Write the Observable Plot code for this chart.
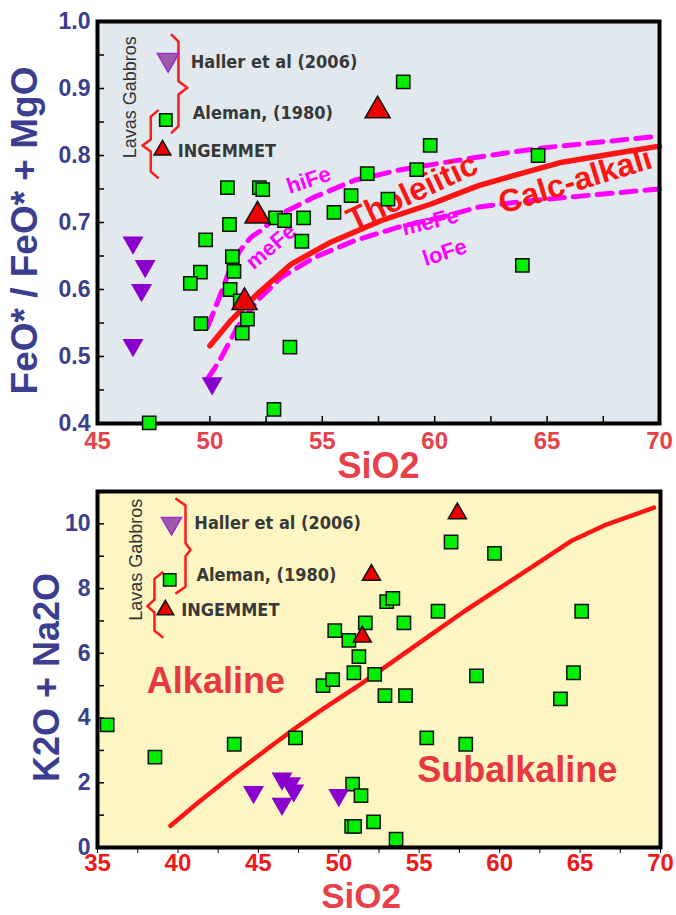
<!DOCTYPE html>
<html>
<head>
<meta charset="utf-8">
<script src="https://cdn.jsdelivr.net/npm/d3@7"></script>
<script src="https://cdn.jsdelivr.net/npm/@observablehq/plot@0.6"></script>
<style>
  body { margin: 0; background: #fff; }
  #root svg { display: block; }
</style>
</head>
<body>
<div id="root"></div>
<script>
// ---------- TOP CHART DATA (SiO2 vs FeO*/(FeO*+MgO)) ----------
const topAlemanX = [58.6,59.8,64.6,59.2,57.0,50.78,52.2,52.35,56.28,57.92,55.52,54.17,52.92,53.32,50.87,49.81,54.09,51.0,51.07,49.58,49.13,50.9,63.9,51.35,51.67,49.6,51.44,53.56,52.85,47.3];
const topAlemanY = [0.910,0.815,0.800,0.779,0.773,0.752,0.752,0.749,0.740,0.735,0.715,0.707,0.707,0.703,0.697,0.674,0.672,0.649,0.627,0.626,0.609,0.600,0.636,0.583,0.556,0.549,0.535,0.514,0.421,0.401];
const topIngemmetX = [57.46,52.12,51.54];
const topIngemmetY = [0.867,0.710,0.581];
const topHallerX = [46.58,47.12,46.96,46.58,50.1];
const topHallerY = [0.670,0.635,0.599,0.517,0.460];

// boundary curves
const tholX = [50,50.94,52.13,53.62,55.4,57.63,59.87,61.95,63.5,65.67,68,70];
const tholY = [0.516,0.554,0.594,0.638,0.671,0.703,0.728,0.755,0.770,0.790,0.803,0.814];
const hiFeX = [49.9,50.49,50.94,51.38,51.83,52.35,52.87,53.46,54.65,56.44,58.38,60.87,62.8,64.7,70];
const hiFeY = [0.544,0.594,0.635,0.660,0.678,0.690,0.706,0.718,0.738,0.763,0.778,0.792,0.802,0.811,0.829];
const loFeX = [49.9,50.4,51.23,52.13,53.17,54.66,56.44,58.38,60.31,61.95,63.8,65.67,70];
const loFeY = [0.467,0.492,0.544,0.584,0.618,0.648,0.673,0.693,0.708,0.723,0.731,0.737,0.750];

const topXTicks = [45,50,55,60,65,70];
const topXMinor = [47.5,50,52.5,55,57.5,60,62.5,65,67.5];
const topYTicks = [0.4,0.5,0.6,0.7,0.8,0.9,1.0];
const topYMinor = [0.45,0.5,0.55,0.6,0.65,0.7,0.75,0.8,0.85,0.9,0.95];

const topRegionLabels = ["Tholeiitic","Calc-alkali","hiFe","meFe","meFe","loFe"];
const topRegionX = [59.0,66.25,54.4,52.72,59.8,60.45];
const topRegionY = [0.745,0.762,0.763,0.664,0.701,0.655];

// ---------- BOTTOM CHART DATA (SiO2 vs K2O+Na2O) ----------
const botAlemanX = [35.6,38.57,43.5,47.31,49.02,49.62,49.75,50.63,50.94,51.25,51.65,52.23,52.87,52.98,53.36,54.05,54.15,56.17,56.98,59.68,58.56,55.47,57.89,63.78,64.59,65.1,50.86,51.38,50.8,50.98,52.16,53.56];
const botAlemanY = [3.79,2.79,3.19,3.39,5.0,5.19,6.7,6.4,5.4,5.9,6.94,5.35,4.69,7.6,7.7,6.94,4.69,7.3,9.44,9.09,5.3,3.39,3.19,4.59,5.4,7.3,1.96,1.6,0.65,0.65,0.79,0.26];
const botIngemmetX = [57.37,52.03,51.46];
const botIngemmetY = [10.32,8.42,6.51];
const botHallerX = [44.7,46.47,47.0,47.2,46.47,50.0];
const botHallerY = [1.71,2.13,1.98,1.76,1.35,1.62];

const alkX = [39.54,41.26,43.47,45.67,47.33,48.98,51.19,53.4,55.6,57.81,60.02,62.23,64.44,66.64,69.6];
const alkY = [0.67,1.39,2.26,3.09,3.70,4.27,4.99,5.76,6.53,7.30,8.02,8.74,9.47,9.98,10.5];

const botXTicks = [35,40,45,50,55,60,65,70];
const botXMinor = [35,37.5,40,42.5,45,47.5,50,52.5,55,57.5,60,62.5,65,67.5,70];
const botYTicks = [0,2,4,6,8,10];
const botYMinor = [1,2,3,4,5,6,7,8,9,10];

const botRegionLabels = ["Alkaline","Subalkaline"];
const botRegionX = [42.36,61.1];
const botRegionY = [5.14,2.37];

// ---------- LEGEND (series names + key placement in data units) ----------
const legendNames = ["Haller et al (2006)","Aleman, (1980)","INGEMMET"];
const legendGroup = "Lavas Gabbros";
const topLegendTextX = [49.15,49.24,48.57];
const topLegendTextY = [0.939,0.863,0.807];
const topLegendKeyX = [48.14,48.04,47.89];
const topLegendKeyY = [0.943,0.853,0.808];
const topGroupXY = [46.47,0.887];
const topBraces = [
  {x:48.6, xh:48.3, xc:49.0, y1:0.980, ym:0.901, y2:0.834, e:0.010},
  {x:47.37, xh:47.68, xc:47.0, y1:0.867, ym:0.815, y2:0.767, e:0.009}
];
const botLegendTextX = [41.02,41.15,40.2];
const botLegendTextY = [10.03,8.42,7.34];
const botLegendKeyX = [39.6,39.49,39.22];
const botLegendKeyY = [10.02,8.27,7.34];
const botGroupXY = [37.42,8.89];
const botBraces = [
  {x:40.47, xh:39.9, xc:40.78, y1:10.77, ym:9.2, y2:7.86, e:0.2},
  {x:38.54, xh:39.04, xc:38.1, y1:8.5, ym:7.46, y2:6.5, e:0.2}
];

// ---------- helpers ----------
const zip = (xs, ys) => xs.map((x, i) => ({x, y: ys[i]}));
function bracePts(b) {
  return [[b.xh,b.y1],[b.x,b.y1-b.e],[b.x,b.ym+b.e],[b.xc,b.ym],[b.x,b.ym-b.e],[b.x,b.y2+b.e],[b.xh,b.y2]]
    .map(([x,y]) => ({x,y}));
}
const FONT = "Liberation Sans, Arial, Helvetica, sans-serif";
const NARROW = "Liberation Sans Narrow, Arial Narrow, DejaVu Sans Condensed, sans-serif";
const GREEN = "#00ee00", RED = "#ee0000", PURPLE = "#8a00cc";
const NAVY = "#3b3d8f", TITLE_RED = "#e8404a";

function legendMarks(textX, textY, keyX, keyY, groupXY, braces, sizes) {
  const marks = [];
  braces.forEach(b => marks.push(Plot.line(bracePts(b), {x:"x", y:"y", stroke:"#ff1a1a", strokeWidth:2.5})));
  marks.push(Plot.text(legendNames.map((t,i)=>({t, x:textX[i], y:textY[i]})),
    {x:"x", y:"y", text:"t", textAnchor:"start", fill:"#383838", fontSize:18, fontWeight:"bold", fontFamily: NARROW}));
  marks.push(Plot.text([{t:legendGroup, x:groupXY[0], y:groupXY[1]}],
    {x:"x", y:"y", text:"t", rotate:-90, fill:"#333", fontSize:18, fontFamily: FONT}));
  marks.push(Plot.dot([{x:keyX[0], y:keyY[0]}], {x:"x", y:"y", symbol:"triangle", rotate:180, r:sizes.haller, fill:"#a05aa8", stroke:"#9a30d0", strokeWidth:1.5}));
  marks.push(Plot.dot([{x:keyX[1], y:keyY[1]}], {x:"x", y:"y", symbol:"square", r:sizes.sq, fill:GREEN, stroke:"#111", strokeWidth:1.5}));
  marks.push(Plot.dot([{x:keyX[2], y:keyY[2]}], {x:"x", y:"y", symbol:"triangle", r:sizes.tri, fill:RED, stroke:"#111", strokeWidth:1.5}));
  return marks;
}

// ---------- TOP CHART ----------
const T = {w:676, h:484, ml:97, mr:17, mt:21, mb:61};
const tInnerW = T.w - T.ml - T.mr, tInnerH = T.h - T.mt - T.mb;
const topAngles = [-25,-17,-18,-40,-14,-18];
const topColors = ["#ff1414","#ff1414","#ff00ff","#ff00ff","#ff00ff","#ff00ff"];
const topSizes = [32,32,22,22,22,22];

const topChart = Plot.plot({
  width: T.w, height: T.h,
  marginLeft: T.ml, marginRight: T.mr, marginTop: T.mt, marginBottom: T.mb,
  x: {domain: [45,70]}, y: {domain: [0.4,1.0]},
  style: {fontFamily: FONT, background: "transparent", overflow: "visible"},
  marks: [
    Plot.frame({fill: "#e1e8ee"}),
    Plot.tickY(topYMinor, {y: d=>d, insetRight: tInnerW - 7, stroke:"#000", strokeWidth:1.5}),
    Plot.tickX(topXMinor, {x: d=>d, insetTop: tInnerH - 7, stroke:"#000", strokeWidth:1.5}),
    Plot.line(zip(hiFeX, hiFeY), {x:"x", y:"y", stroke:"#ff00ff", strokeWidth:5, strokeDasharray:"15,9"}),
    Plot.line(zip(loFeX, loFeY), {x:"x", y:"y", stroke:"#ff00ff", strokeWidth:5, strokeDasharray:"15,9"}),
    Plot.line(zip(tholX, tholY), {x:"x", y:"y", stroke:"#ff1414", strokeWidth:5.5}),
    ...topRegionLabels.map((t,i) => Plot.text([{t, x:topRegionX[i], y:topRegionY[i]}],
      {x:"x", y:"y", text:"t", rotate: topAngles[i], fill: topColors[i], fontSize: topSizes[i], fontWeight:"bold"})),
    Plot.frame({stroke:"#000", strokeWidth:4}),
    ...legendMarks(topLegendTextX, topLegendTextY, topLegendKeyX, topLegendKeyY, topGroupXY, topBraces, {haller:8, sq:7, tri:6.2}),
    Plot.dot(zip(topAlemanX, topAlemanY), {x:"x", y:"y", symbol:"square", r:7.5, fill:GREEN, stroke:"#111", strokeWidth:1.5}),
    Plot.dot(zip(topHallerX, topHallerY), {x:"x", y:"y", symbol:"triangle", rotate:180, r:7.8, fill:PURPLE}),
    Plot.dot(zip(topIngemmetX, topIngemmetY), {x:"x", y:"y", symbol:"triangle", r:9.3, fill:RED, stroke:"#111", strokeWidth:1.5}),
    Plot.axisX({ticks: topXTicks, tickSize: 0, tickPadding: 8, fontSize: 24, fontWeight: "bold", color: TITLE_RED, label: null}),
    Plot.axisY({ticks: topYTicks, tickSize: 0, tickPadding: 7, tickFormat: d3.format(".1f"), fontSize: 23, fontWeight: "bold", color: NAVY, label: null}),
    Plot.text(["FeO* / FeO* + MgO"], {frameAnchor:"left", textAnchor:"middle", lineAnchor:"middle", dx:-72, dy:8, rotate:-90, fontSize:37, fontWeight:"bold", fill:NAVY}),
    Plot.text(["SiO2"], {frameAnchor:"bottom", textAnchor:"middle", lineAnchor:"middle", dy:43, dx:0, fontSize:36, fontWeight:"bold", fill:TITLE_RED})
  ]
});

// ---------- BOTTOM CHART ----------
const B = {w:676, h:431, ml:97, mr:16, mt:7, mb:68};
const bInnerW = B.w - B.ml - B.mr;
const botChart = Plot.plot({
  width: B.w, height: B.h,
  marginLeft: B.ml, marginRight: B.mr, marginTop: B.mt, marginBottom: B.mb,
  x: {domain: [35,70]}, y: {domain: [0,11]},
  style: {fontFamily: FONT, background: "transparent", overflow: "visible"},
  marks: [
    Plot.frame({fill: "#fdf6c3"}),
    Plot.tickY(botYMinor, {y: d=>d, insetRight: bInnerW - 7, stroke:"#000", strokeWidth:1.5}),
    Plot.line(zip(alkX, alkY), {x:"x", y:"y", stroke:"#ff1414", strokeWidth:4.5}),
    Plot.text(botRegionLabels.map((t,i)=>({t, x:botRegionX[i], y:botRegionY[i]})),
      {x:"x", y:"y", text:"t", fill:"#e8383f", fontSize:36, fontWeight:"bold"}),
    Plot.frame({stroke:"#000", strokeWidth:4}),
    ...legendMarks(botLegendTextX, botLegendTextY, botLegendKeyX, botLegendKeyY, botGroupXY, botBraces, {haller:7.5, sq:7, tri:6.2}),
    Plot.dot(zip(botAlemanX, botAlemanY), {x:"x", y:"y", symbol:"square", r:7.5, fill:GREEN, stroke:"#111", strokeWidth:1.5}),
    Plot.dot(zip(botHallerX, botHallerY), {x:"x", y:"y", symbol:"triangle", rotate:180, r:7.8, fill:PURPLE}),
    Plot.dot(zip(botIngemmetX, botIngemmetY), {x:"x", y:"y", symbol:"triangle", r:6.7, fill:RED, stroke:"#111", strokeWidth:1.5}),
    Plot.axisX({ticks: botXMinor, tickSize: 6, tickFormat: () => "", stroke:"#000", label: null}),
    Plot.axisX({ticks: botXTicks, tickSize: 0, tickPadding: 6, fontSize: 24, fontWeight: "bold", color: "#f01818", label: null}),
    Plot.axisY({ticks: botYTicks, tickSize: 0, tickPadding: 7, fontSize: 23, fontWeight: "bold", color: NAVY, label: null}),
    Plot.text(["K2O + Na2O"], {frameAnchor:"left", textAnchor:"middle", lineAnchor:"middle", dx:-50, dy:8, rotate:-90, fontSize:36, fontWeight:"bold", fill:NAVY}),
    Plot.text(["SiO2"], {frameAnchor:"bottom", textAnchor:"middle", lineAnchor:"middle", dy:49, dx:-18, fontSize:35, fontWeight:"bold", fill:TITLE_RED})
  ]
});

const root = document.getElementById("root");
root.appendChild(topChart);
root.appendChild(botChart);
</script>
</body>
</html>
